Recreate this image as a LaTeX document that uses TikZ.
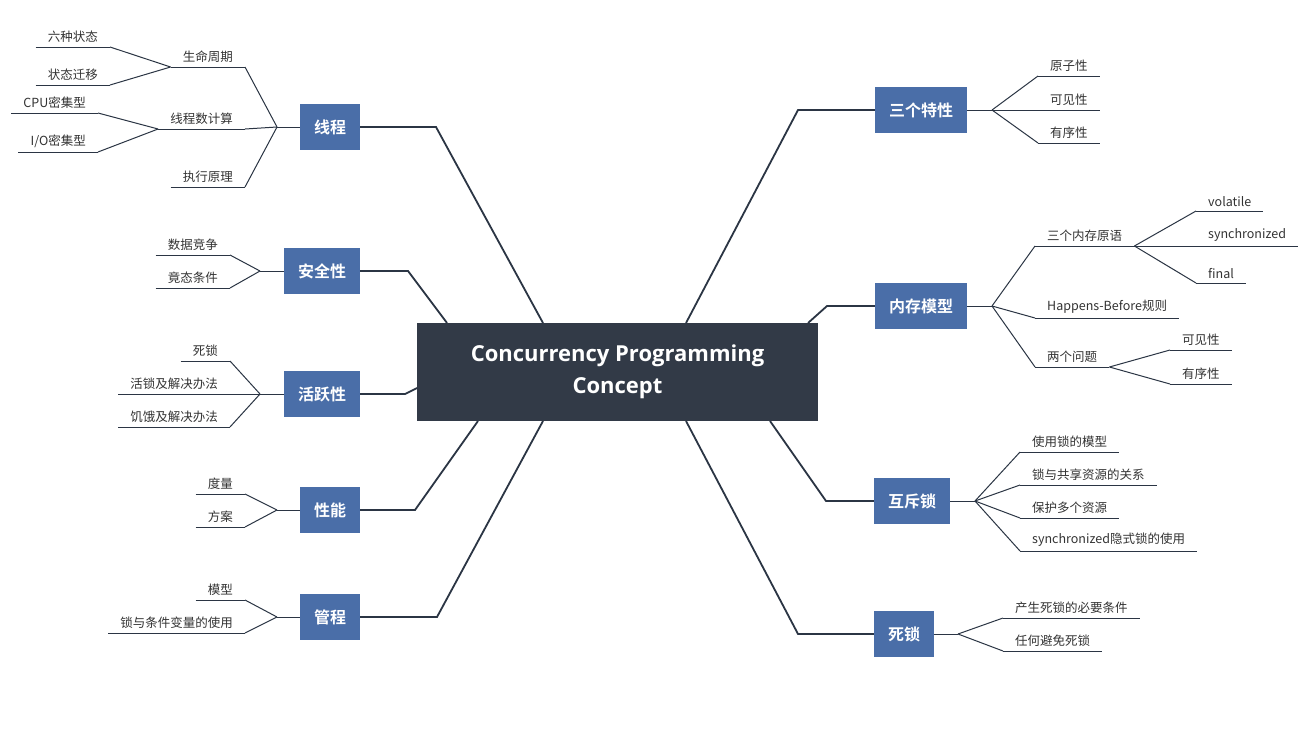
\documentclass[tikz,border=0pt]{standalone}
\usepackage{fontspec}
\setmainfont{Noto Sans CJK SC}[BoldFont=* Bold]
\newfontfamily\titlefont{Open Sans}
\definecolor{topicblue}{HTML}{4A6EA8}
\definecolor{centerdark}{HTML}{323A47}
\definecolor{linedark}{HTML}{2B3544}
\definecolor{txtgray}{HTML}{333333}
\tikzset{
  topic/.style={fill=topicblue, text=white, font=\fontsize{16}{18}\selectfont\bfseries,
    minimum height=46pt, inner xsep=14pt},
  ln/.style={draw=linedark, line width=1pt},
  tn/.style={draw=linedark, line width=1.8pt},
  leafl/.style={anchor=south east, inner xsep=12pt, inner ysep=4pt, text=txtgray,
    font=\fontsize{12.5}{14}\selectfont},
  leafr/.style={leafl, anchor=south west},
}
\begin{document}
\begin{tikzpicture}[x=1pt, y=-1pt]
\useasboundingbox[fill=white] (0,0) rectangle (1313,728);
% centre
\node[fill=centerdark, text=white, minimum width=401pt, minimum height=98pt, align=center,
  font=\titlefont\fontsize{22}{32}\selectfont\bfseries] (core) at (617.5,372)
  {Concurrency Programming\\Concept};
% topics
\node[topic] (xc) at (330,127) {线程};
\node[topic] (aq) at (322,271) {安全性};
\node[topic] (hy) at (322,394) {活跃性};
\node[topic] (xn) at (330,510) {性能};
\node[topic] (gc) at (330,617) {管程};
\node[topic] (tx) at (921,110) {三个特性};
\node[topic] (nc) at (921,306) {内存模型};
\node[topic] (hc) at (912,501) {互斥锁};
\node[topic] (ss) at (904,634) {死锁};
% main connectors
\draw[tn] (xc.east) -- (436,127) -- (543,323);
\draw[tn] (aq.east) -- (408,271) -- (447,323);
\draw[tn] (hy.east) -- (405,394) -- (417,388);
\draw[tn] (xn.east) -- (415,510) -- (478,421);
\draw[tn] (gc.east) -- (437,617) -- (543,421);
\draw[tn] (tx.west) -- (798,110) -- (686,323);
\draw[tn] (nc.west) -- (827,306) -- (808,323);
\draw[tn] (hc.west) -- (826,501) -- (770,421);
\draw[tn] (ss.west) -- (798,634) -- (686,421);
% fan points
\coordinate (fxc) at (277,127);
\coordinate (faq) at (260,271);
\coordinate (fhy) at (260,394);
\coordinate (fxn) at (277,510);
\coordinate (fgc) at (277,617);
\coordinate (ftx) at (992,110);
\coordinate (fnc) at (992,306);
\coordinate (fhc) at (975,501);
\coordinate (fss) at (958,634);
% leaves, left
\node[leafl] (smzq) at (245,67) {生命周期};
\node[leafl] (xcsj) at (245,129) {线程数计算};
\node[leafl] (zxyl) at (245,187) {执行原理};
\node[leafl] (lzzt) at (110,47) {六种状态};
\node[leafl] (ztqy) at (110,85) {状态迁移};
\node[leafl] (cpu) at (98,113) {CPU密集型};
\node[leafl] (io) at (98,152) {I/O密集型};
\node[leafl] (sjjz) at (230,255) {数据竞争};
\node[leafl] (jttj) at (230,288) {竟态条件};
\node[leafl] (sisu) at (230,361) {死锁};
\node[leafl] (hsjj) at (230,394) {活锁及解决办法};
\node[leafl] (jejj) at (230,427) {饥饿及解决办法};
\node[leafl] (dl) at (245,494) {度量};
\node[leafl] (fa) at (245,527) {方案};
\node[leafl] (mx) at (245,600) {模型};
\node[leafl] (styl) at (245,633) {锁与条件变量的使用};
% leaves, right
\node[leafr] (yzx) at (1038,76) {原子性};
\node[leafr] (kjx) at (1038,110) {可见性};
\node[leafr] (yxx) at (1038,143) {有序性};
\node[leafr] (ncyy) at (1035,246) {三个内存原语};
\node[leafr] (hb) at (1035,318) {Happens-Before规则};
\node[leafr] (lgwt) at (1035,367) {两个问题};
\node[leafr] (vol) at (1196,211) {volatile};
\node[leafr] (syn) at (1196,246) {synchronized};
\node[leafr] (fin) at (1196,283) {final};
\node[leafr] (kjx2) at (1170,350) {可见性};
\node[leafr] (yxx2) at (1170,384) {有序性};
\node[leafr] (sysm) at (1020,452) {使用锁的模型};
\node[leafr] (gxzy) at (1020,485) {锁与共享资源的关系};
\node[leafr] (bhdg) at (1020,518) {保护多个资源};
\node[leafr] (synys) at (1020,551) {synchronized隐式锁的使用};
\node[leafr] (bytj) at (1003,618) {产生死锁的必要条件};
\node[leafr] (rhbm) at (1003,651) {任何避免死锁};
% underlines
\foreach \n in {smzq,xcsj,zxyl,lzzt,ztqy,cpu,io,sjjz,jttj,sisu,hsjj,jejj,dl,fa,mx,styl,
  yzx,kjx,yxx,ncyy,hb,lgwt,vol,syn,fin,kjx2,yxx2,sysm,gxzy,bhdg,synys,bytj,rhbm}
  \draw[ln] (\n.south west) -- (\n.south east);
% leaf connectors
\draw[ln] (xc.west) -- (fxc);
\foreach \n in {smzq,xcsj,zxyl} \draw[ln] (fxc) -- (\n.south east);
\foreach \n in {lzzt,ztqy} \draw[ln] (smzq.south west) -- (\n.south east);
\foreach \n in {cpu,io} \draw[ln] (xcsj.south west) -- (\n.south east);
\draw[ln] (aq.west) -- (faq);
\foreach \n in {sjjz,jttj} \draw[ln] (faq) -- (\n.south east);
\draw[ln] (hy.west) -- (fhy);
\foreach \n in {sisu,hsjj,jejj} \draw[ln] (fhy) -- (\n.south east);
\draw[ln] (xn.west) -- (fxn);
\foreach \n in {dl,fa} \draw[ln] (fxn) -- (\n.south east);
\draw[ln] (gc.west) -- (fgc);
\foreach \n in {mx,styl} \draw[ln] (fgc) -- (\n.south east);
\draw[ln] (tx.east) -- (ftx);
\foreach \n in {yzx,kjx,yxx} \draw[ln] (ftx) -- (\n.south west);
\draw[ln] (nc.east) -- (fnc);
\foreach \n in {ncyy,hb,lgwt} \draw[ln] (fnc) -- (\n.south west);
\foreach \n in {vol,syn,fin} \draw[ln] (ncyy.south east) -- (\n.south west);
\foreach \n in {kjx2,yxx2} \draw[ln] (lgwt.south east) -- (\n.south west);
\draw[ln] (hc.east) -- (fhc);
\foreach \n in {sysm,gxzy,bhdg,synys} \draw[ln] (fhc) -- (\n.south west);
\draw[ln] (ss.east) -- (fss);
\foreach \n in {bytj,rhbm} \draw[ln] (fss) -- (\n.south west);
\end{tikzpicture}
\end{document}
